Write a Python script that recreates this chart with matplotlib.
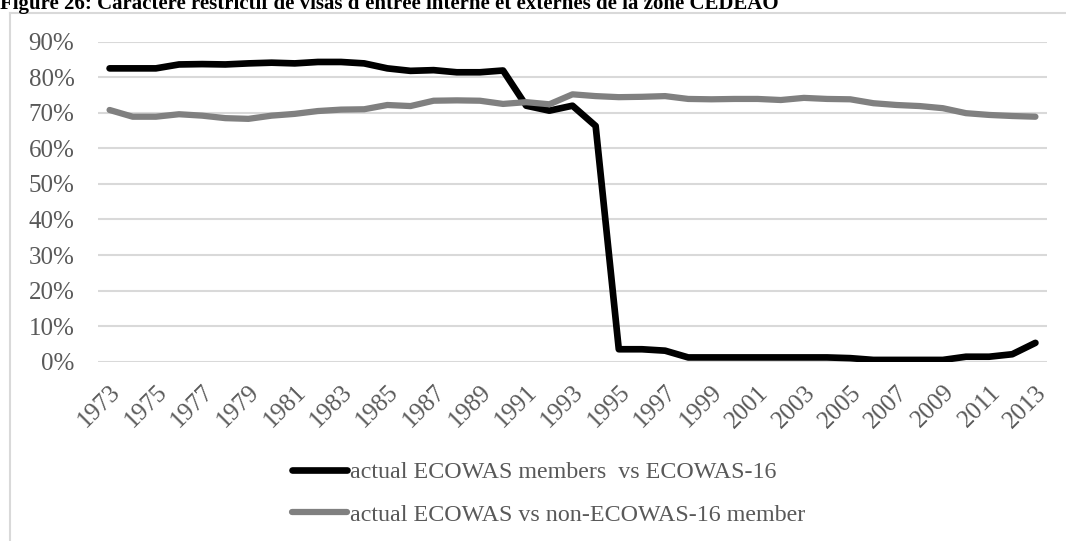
#!/usr/bin/env python3
"""Visa restrictiveness inside / outside ECOWAS, 1973-2013 (Excel-style line chart)"""
import matplotlib
matplotlib.use('Agg')
import matplotlib.pyplot as plt
from matplotlib.lines import Line2D
import numpy as np

years = list(range(1973, 2014))
members = [82.5, 82.5, 82.5, 83.6, 83.7, 83.6, 83.9, 84.1, 83.9, 84.3,
           84.3, 83.9, 82.5, 81.8, 82.0, 81.4, 81.4, 81.9, 72.0, 70.6,
           72.0, 66.3, 3.5, 3.5, 3.1, 1.2, 1.2, 1.2, 1.2, 1.2,
           1.2, 1.2, 1.0, 0.5, 0.5, 0.5, 0.5, 1.4, 1.4, 2.1, 5.3]
non_members = [70.8, 68.9, 68.9, 69.6, 69.2, 68.5, 68.3, 69.2, 69.7, 70.5,
               70.9, 71.0, 72.2, 71.9, 73.4, 73.5, 73.4, 72.5, 73.0, 72.4,
               75.2, 74.7, 74.4, 74.5, 74.7, 73.9, 73.8, 73.9, 73.9, 73.6,
               74.2, 73.9, 73.8, 72.7, 72.2, 71.9, 71.3, 69.9, 69.4, 69.1, 68.9]
labels = ['actual ECOWAS members  vs ECOWAS-16', 'actual ECOWAS vs non-ECOWAS-16 member']
title = "Figure 26: Caractère restrictif de visas d'entrée interne et externes de la zone CEDEAO"

W, H = 1066, 541
plt.rcParams['font.family'] = ['Liberation Serif', 'DejaVu Serif']
TXT = '#595959'
GRID = '#d9d9d9'

fig = plt.figure(figsize=(W/100, H/100), dpi=100)
ax = fig.add_axes([98/W, 1-361.7/H, (1047-98)/W, 320/H])

x = np.arange(len(years))
ax.plot(x, np.array(members)/100, color='black', lw=4.8, solid_capstyle='round', solid_joinstyle='round', label=labels[0])
ax.plot(x, np.array(non_members)/100, color='#808080', lw=4.5, solid_capstyle='round', solid_joinstyle='round', label=labels[1])

ax.set_xlim(-0.5, len(years)-0.5)
ax.set_ylim(0, 0.9)
yt = np.arange(0, 0.91, 0.1)
ax.set_yticks(yt)
ax.set_yticklabels([f'{int(round(v*100))}%' for v in yt])
ax.set_xticks(x[::2])
ax.set_xticklabels([str(y) for y in years[::2]], rotation=45, ha='right', va='top', rotation_mode='anchor')
ax.tick_params(axis='both', length=0, labelsize=18, labelcolor=TXT)
ax.tick_params(axis='y', pad=17)
ax.tick_params(axis='x', pad=14)
ax.grid(axis='y', color=GRID, lw=1.5)
ax.set_axisbelow(True)
for s in ax.spines.values():
    s.set_visible(False)

# chart area border (cut by the page crop)
fig.add_artist(Line2D([10/W, 10/W], [0, 1-13/H], color=GRID, lw=1.5))
fig.add_artist(Line2D([10/W, 1], [1-13/H, 1-13/H], color=GRID, lw=1.5))

fig.text(0, 1-9/H, title, fontsize=15, fontweight='bold', color='black', va='baseline', ha='left')

fig.legend(loc='center left', bbox_to_anchor=(292/W, 1-493.5/H), frameon=False,
           fontsize=17.3, labelcolor=TXT, handlelength=2.3, handletextpad=0.12,
           labelspacing=0.85, borderpad=0, borderaxespad=0)

fig.savefig('out.png', dpi=100)
